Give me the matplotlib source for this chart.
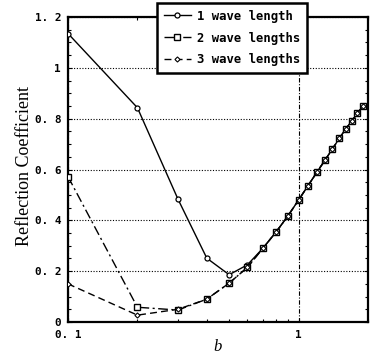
import matplotlib
matplotlib.use("Agg")
import matplotlib.pyplot as plt
from matplotlib.ticker import FixedLocator, MultipleLocator, NullFormatter, LogLocator

# ---- data ----
b_values = [0.1, 0.2, 0.3, 0.4, 0.5, 0.6, 0.7, 0.8, 0.9, 1.0, 1.1, 1.2, 1.3,
            1.4, 1.5, 1.6, 1.7, 1.8, 1.9]
common_tail = [0.290, 0.355, 0.418, 0.480, 0.537, 0.589, 0.636, 0.680,
               0.722, 0.759, 0.791, 0.821, 0.849]
one_wave = [1.135, 0.843, 0.483, 0.251, 0.186, 0.225] + common_tail
two_waves = [0.572, 0.058, 0.047, 0.090, 0.153, 0.215] + common_tail
three_waves = [0.150, 0.027, 0.050, 0.090, 0.153, 0.215] + common_tail

series_labels = ["1 wave length", "2 wave lengths", "3 wave lengths"]
y_ticks = [0, 0.2, 0.4, 0.6, 0.8, 1.0, 1.2]
y_tick_labels = ["0", "0. 2", "0. 4", "0. 6", "0. 8", "1", "1. 2"]
x_ticks = [0.1, 1]
x_tick_labels = ["0. 1", "1"]

W, H = 372, 362
fig = plt.figure(figsize=(W / 100, H / 100), dpi=100)
ax = fig.add_axes([68 / W, (H - 322) / H, 300 / W, 305 / H])

tick_font = dict(family=["DejaVu Sans Mono"], weight="bold", size=7.9)

ax.plot(b_values, one_wave, color="black", lw=1.0, ls="-", marker="o",
        ms=3.6, mfc="white", mec="black", mew=0.9, label=series_labels[0], zorder=3)
ax.plot(b_values, two_waves, color="black", lw=1.0, ls=(0, (7, 2.5, 1.5, 2.5)),
        marker="s", ms=4.2, mfc="white", mec="black", mew=1.0,
        label=series_labels[1], zorder=4)
ax.plot(b_values, three_waves, color="black", lw=1.0, ls=(0, (5, 3)),
        marker="D", ms=2.6, mfc="white", mec="black", mew=0.8,
        label=series_labels[2], zorder=5)

ax.set_xscale("log")
ax.set_xlim(0.1, 2.0)
ax.set_ylim(0, 1.2)

ax.xaxis.set_major_locator(FixedLocator(x_ticks))
ax.set_xticklabels(x_tick_labels, **tick_font)
ax.xaxis.set_minor_locator(LogLocator(base=10, subs=range(2, 10)))
ax.xaxis.set_minor_formatter(NullFormatter())
ax.set_yticks(y_ticks)
ax.set_yticklabels(y_tick_labels, **tick_font)
ax.yaxis.set_minor_locator(MultipleLocator(0.05))

ax.tick_params(which="both", direction="in", top=True, right=True,
               width=0.8, color="black")
ax.tick_params(which="major", length=3)
ax.tick_params(axis="x", which="major", pad=6)
ax.tick_params(axis="y", which="major", pad=5)
ax.tick_params(which="minor", length=2)

ax.yaxis.grid(True, which="major", ls=(0, (1, 1.5)), color="black", lw=0.8)
ax.xaxis.grid(True, which="major", ls=(0, (4, 1.5, 1, 1.5)), color="black", lw=0.8)
ax.set_axisbelow(True)

for s in ax.spines.values():
    s.set_linewidth(1.6)

ax.set_ylabel("Reflection Coefficient", family=["Liberation Serif"], size=13)
ax.yaxis.set_label_coords(-0.115, 0.51)
ax.set_xlabel("b", family=["Liberation Serif"], style="italic", size=12)
ax.xaxis.set_label_coords(0.5, -0.055)

leg = fig.legend(loc="upper left", bbox_to_anchor=(157 / W, 1 - 3 / H),
                 prop=dict(family=["DejaVu Sans Mono"], weight="bold", size=8.8),
                 handlelength=2.2, handletextpad=0.5, borderpad=0.55,
                 labelspacing=0.72, borderaxespad=0, fancybox=False,
                 framealpha=1, edgecolor="black")
leg.get_frame().set_linewidth(1.8)

fig.savefig("out.png", dpi=100)
